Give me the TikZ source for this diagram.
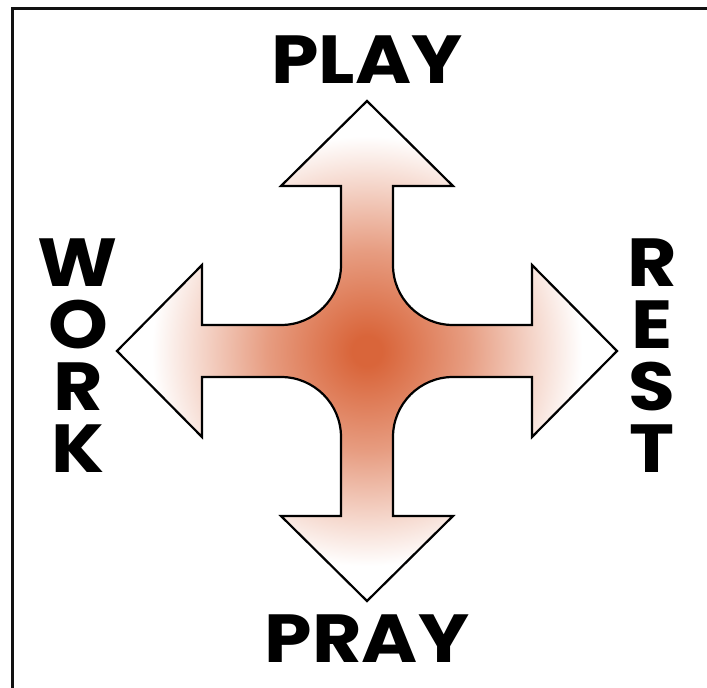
\documentclass[tikz,border=0pt]{standalone}
\usepackage{fontspec}
\newfontfamily\wordfont{Poppins}[FakeStretch=1.12]
\definecolor{glow}{HTML}{D9653A}
\definecolor{frameink}{HTML}{111111}
\pgfdeclareradialshading{crossglow}{\pgfpoint{0bp}{0bp}}{%
  color(0bp)=(glow); color(1.5bp)=(glow); color(10bp)=(glow!64!white);
  color(21.5bp)=(white); color(50bp)=(white)}
\tikzset{
  word/.style={font=\wordfont\bfseries\fontsize{68}{62}\selectfont,inner sep=0pt,text=black},
  column/.style={word,align=center},
  crossarrow/.style={draw=black,line width=2.2pt,miter limit=10,shading=crossglow},
  frameline/.style={draw=frameink,line width=3pt},
}

\begin{document}
\begin{tikzpicture}[x=1pt,y=1pt]
\useasboundingbox (-367,-337) rectangle (340,351);

% --- frame, cut off at the right and bottom ---
\coordinate (fbl) at (-354.5,-337);
\coordinate (ftr) at (340,342.5);
\draw[frameline] (fbl) |- (ftr);

% --- the four-way arrow ---
\path[crossarrow]
  (0,250) -- (86,165) -- (26,165) -- (26,86)
  arc[start angle=180,end angle=270,radius=60] -- (165,26) -- (165,86)
  -- (250,0) -- (165,-86) -- (165,-26) -- (86,-26)
  arc[start angle=90,end angle=180,radius=60] -- (26,-165) -- (86,-165)
  -- (0,-250) -- (-86,-165) -- (-26,-165) -- (-26,-86)
  arc[start angle=0,end angle=90,radius=60] -- (-165,-26) -- (-165,-86)
  -- (-250,0) -- (-165,86) -- (-165,26) -- (-86,26)
  arc[start angle=270,end angle=360,radius=60] -- (-26,165) -- (-86,165)
  -- cycle;

% --- labels ---
\node[word,anchor=base] (play) at (0,267) {PLAY};
\node[word,anchor=base] (pray) at (0,-311) {PRAY};
\node[column] (work) at (-289,-5) {W\\O\\R\\K};
\node[column] (rest) at (285,-5) {R\\E\\S\\T};

\end{tikzpicture}
\end{document}
